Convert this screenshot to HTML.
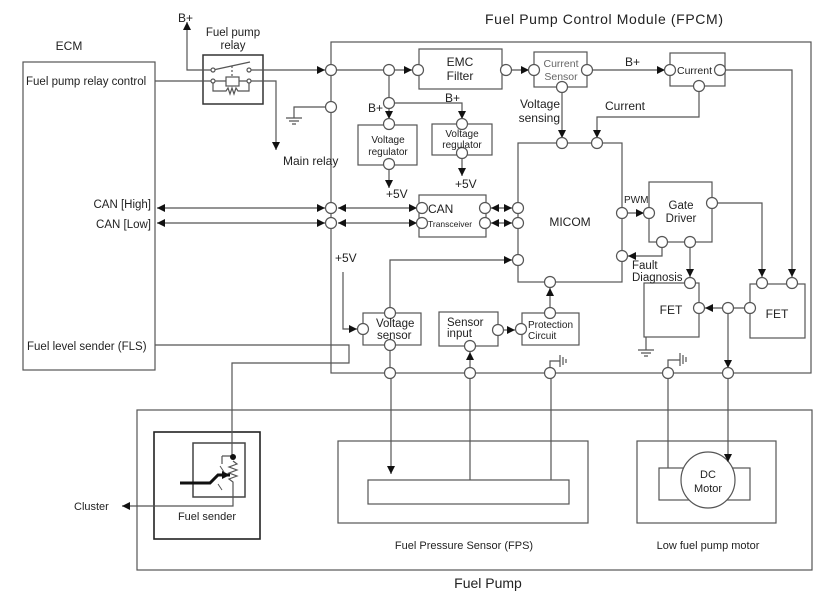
<!DOCTYPE html>
<html><head><meta charset="utf-8"><style>
html,body{margin:0;padding:0;background:#fff;}
svg{display:block;font-family:"Liberation Sans",Arial,sans-serif;}
</style></head><body>
<svg width="836" height="613" viewBox="0 0 836 613" xmlns="http://www.w3.org/2000/svg">
<defs>
<marker id="a" viewBox="0 0 10 10" refX="10" refY="5" markerWidth="8" markerHeight="8" markerUnits="userSpaceOnUse" orient="auto"><path d="M0,0 L10,5 L0,10 z" fill="#111"/></marker>
<marker id="s" viewBox="0 0 10 10" refX="0" refY="5" markerWidth="8" markerHeight="8" markerUnits="userSpaceOnUse" orient="auto"><path d="M10,0 L0,5 L10,10 z" fill="#111"/></marker>
</defs>
<g fill="none" stroke="#555" stroke-width="1.2">
<rect x="23" y="62" width="132" height="308"/>
<rect x="331" y="42" width="480" height="331"/>
<rect x="203" y="55" width="60" height="49" stroke="#333" stroke-width="1.5"/>
<rect x="419" y="49" width="83" height="40"/>
<rect x="534" y="52" width="53" height="35"/>
<rect x="670" y="53" width="55" height="33"/>
<rect x="358" y="125" width="59" height="40"/>
<rect x="432" y="124" width="60" height="31"/>
<rect x="419" y="195" width="67" height="42"/>
<rect x="518" y="143" width="104" height="139"/>
<rect x="649" y="182" width="63" height="60"/>
<rect x="644" y="283" width="55" height="54"/>
<rect x="750" y="284" width="55" height="54"/>
<rect x="363" y="313" width="58" height="32"/>
<rect x="439" y="312" width="59" height="34"/>
<rect x="522" y="313" width="57" height="32"/>
<rect x="137" y="410" width="675" height="160"/>
<rect x="154" y="432" width="106" height="107" stroke="#222" stroke-width="1.6"/>
<rect x="193" y="443" width="52" height="54" stroke="#444" stroke-width="1.5"/>
<rect x="338" y="441" width="250" height="82"/>
<rect x="368" y="480" width="201" height="24"/>
<rect x="637" y="441" width="139" height="82"/>
<rect x="659" y="468" width="91" height="32"/>
<ellipse cx="708" cy="480" rx="27" ry="28" fill="#fff"/>

<path d="M187,22 V70 H213" marker-start="url(#s)"/>
<path d="M213,70 L250,62"/>
<path d="M232,66 V78" stroke-dasharray="2,2"/>
<rect x="226" y="77" width="13" height="9"/>
<path d="M213,81 V91 H226 l2,-3 2,6 2,-6 2,6 2,-6 2,3 H249 V81"/>
<path d="M155,81 H226 M239,81 H276 V150" marker-end="url(#a)"/>
<path d="M249,70 H325" marker-end="url(#a)"/>
<path d="M337,70 H384 M394,70 H412" marker-end="url(#a)"/>
<path d="M327,107 H294 V118 M286,118 H302 M289,121 H299 M292,124 H296"/>
<path d="M389,75 V98"/>
<path d="M389,108 V119" marker-end="url(#a)"/>
<path d="M394,103 H462 V119" marker-end="url(#a)"/>
<path d="M389,169 V188" marker-end="url(#a)"/>
<path d="M462,158 V176" marker-end="url(#a)"/>
<path d="M511,70 H529" marker-end="url(#a)"/>
<path d="M592,70 H665" marker-end="url(#a)"/>
<path d="M562,92 V138" marker-end="url(#a)"/>
<path d="M699,91 V117 H597 V138" marker-end="url(#a)"/>
<path d="M725,70 H792 V277" marker-end="url(#a)"/>
<path d="M717,203 H762 V277" marker-end="url(#a)"/>
<path d="M157,208 H325" marker-start="url(#s)" marker-end="url(#a)"/>
<path d="M157,223 H325" marker-start="url(#s)" marker-end="url(#a)"/>
<path d="M338,208 H417" marker-start="url(#s)" marker-end="url(#a)"/>
<path d="M338,223 H417" marker-start="url(#s)" marker-end="url(#a)"/>
<path d="M491,208 H512" marker-start="url(#s)" marker-end="url(#a)"/>
<path d="M491,223 H512" marker-start="url(#s)" marker-end="url(#a)"/>
<path d="M627,213 H644" marker-end="url(#a)"/>
<path d="M662,247 V256 H628" marker-end="url(#a)"/>
<path d="M690,247 V277" marker-end="url(#a)"/>
<path d="M745,308 H733 M722,308 H705" marker-end="url(#a)"/>
<path d="M728,313 V368" marker-end="url(#a)"/>
<path d="M646,337 V350 M638,350 H654 M641,353 H651 M644,356 H648"/>
<path d="M343,272 V329 H357" marker-end="url(#a)"/>
<path d="M390,308 V260 H512" marker-end="url(#a)"/>
<path d="M503,330 H515" marker-end="url(#a)"/>
<path d="M550,308 V288" marker-end="url(#a)"/>
<path d="M470,368 V352" marker-end="url(#a)"/>
<path d="M390,350 V368"/>
<path d="M550,368 V361 H560 M560,355 V367 M563,357 V365 M566,359 V363"/>
<path d="M668,368 V360 H680 M680,353 V366 M683,355 V364 M686,357 V362"/>
<path d="M668,378 V368" marker-start="url(#s)"/>
<path d="M155,345 H349 V363 H232 V457"/>
<path d="M233,490 V506 H122" marker-end="url(#a)"/>
<path d="M391,378 V474" marker-end="url(#a)"/>
<path d="M470,378 V480 M551,378 V480"/>
<path d="M668,378 V468"/>
<path d="M728,378 V462" marker-end="url(#a)"/>
<path d="M222,456 H232 M233,461 l4,3 -8,3 8,3 -8,3 8,3 -8,3 4,3 V490"/>
<path d="M222,456 V464"/>
<path d="M180,483 H210 L218,475 H230" stroke="#111" stroke-width="3" marker-end="url(#a)"/>
<path d="M220,466 L224,472 M218,484 L222,490" stroke-width="1"/>
</g>
<circle cx="233" cy="457" r="3" fill="#111"/>
<g fill="#fff" stroke="#555" stroke-width="1.2">
<circle cx="213" cy="70" r="2"/><circle cx="249" cy="70" r="2"/><circle cx="213" cy="81" r="2"/><circle cx="249" cy="81" r="2"/>
<circle cx="331" cy="70" r="5.5"/><circle cx="389" cy="70" r="5.5"/><circle cx="418" cy="70" r="5.5"/>
<circle cx="331" cy="107" r="5.5"/><circle cx="389" cy="103" r="5.5"/>
<circle cx="389" cy="124" r="5.5"/><circle cx="389" cy="164" r="5.5"/>
<circle cx="462" cy="124" r="5.5"/><circle cx="462" cy="153" r="5.5"/>
<circle cx="506" cy="70" r="5.5"/><circle cx="534" cy="70" r="5.5"/><circle cx="587" cy="70" r="5.5"/><circle cx="562" cy="87" r="5.5"/>
<circle cx="670" cy="70" r="5.5"/><circle cx="720" cy="70" r="5.5"/><circle cx="699" cy="86" r="5.5"/>
<circle cx="562" cy="143" r="5.5"/><circle cx="597" cy="143" r="5.5"/>
<circle cx="331" cy="208" r="5.5"/><circle cx="331" cy="223" r="5.5"/>
<circle cx="422" cy="208" r="5.5"/><circle cx="422" cy="223" r="5.5"/><circle cx="485" cy="208" r="5.5"/><circle cx="485" cy="223" r="5.5"/>
<circle cx="518" cy="208" r="5.5"/><circle cx="518" cy="223" r="5.5"/><circle cx="518" cy="260" r="5.5"/>
<circle cx="622" cy="213" r="5.5"/><circle cx="622" cy="256" r="5.5"/><circle cx="550" cy="282" r="5.5"/>
<circle cx="649" cy="213" r="5.5"/><circle cx="712" cy="203" r="5.5"/><circle cx="662" cy="242" r="5.5"/><circle cx="690" cy="242" r="5.5"/>
<circle cx="690" cy="283" r="5.5"/><circle cx="699" cy="308" r="5.5"/><circle cx="728" cy="308" r="5.5"/><circle cx="750" cy="308" r="5.5"/>
<circle cx="762" cy="283" r="5.5"/><circle cx="792" cy="283" r="5.5"/>
<circle cx="363" cy="329" r="5.5"/><circle cx="390" cy="313" r="5.5"/><circle cx="390" cy="345" r="5.5"/>
<circle cx="498" cy="330" r="5.5"/><circle cx="470" cy="346" r="5.5"/><circle cx="521" cy="329" r="5.5"/><circle cx="550" cy="313" r="5.5"/>
<circle cx="390" cy="373" r="5.5"/><circle cx="470" cy="373" r="5.5"/><circle cx="550" cy="373" r="5.5"/><circle cx="668" cy="373" r="5.5"/><circle cx="728" cy="373" r="5.5"/>
</g>
<g fill="#222" font-size="12">
<text x="485" y="24" font-size="14" textLength="238">Fuel Pump Control Module (FPCM)</text>
<text x="69" y="50" text-anchor="middle">ECM</text>
<text x="26" y="85" font-size="11.5">Fuel pump relay control</text>
<text x="151" y="208" text-anchor="end" font-size="11.5">CAN [High]</text>
<text x="151" y="228" text-anchor="end" font-size="11.5">CAN [Low]</text>
<text x="27" y="350" font-size="11.5">Fuel level sender (FLS)</text>
<text x="178" y="22">B+</text>
<text x="233" y="36" text-anchor="middle" font-size="11.5">Fuel pump</text>
<text x="233" y="49" text-anchor="middle" font-size="11.5">relay</text>
<text x="283" y="165">Main relay</text>
<text x="460" y="66" text-anchor="middle">EMC</text>
<text x="460" y="80" text-anchor="middle">Filter</text>
<text x="561" y="67" text-anchor="middle" font-size="10.5" fill="#666">Current</text>
<text x="561" y="80" text-anchor="middle" font-size="10.5" fill="#666">Sensor</text>
<text x="625" y="66">B+</text>
<text x="677" y="74" font-size="10.5">Current</text>
<text x="560" y="108" text-anchor="end">Voltage</text>
<text x="560" y="122" text-anchor="end">sensing</text>
<text x="605" y="110">Current</text>
<text x="368" y="112">B+</text>
<text x="445" y="102">B+</text>
<text x="388" y="143" text-anchor="middle" font-size="10">Voltage</text>
<text x="388" y="155" text-anchor="middle" font-size="10">regulator</text>
<text x="462" y="137" text-anchor="middle" font-size="10">Voltage</text>
<text x="462" y="148" text-anchor="middle" font-size="10">regulator</text>
<text x="386" y="198">+5V</text>
<text x="455" y="188">+5V</text>
<text x="428" y="213" font-size="12">CAN</text>
<text x="428" y="227" font-size="8.5">Transceiver</text>
<text x="570" y="226" text-anchor="middle">MICOM</text>
<text x="624" y="203" font-size="10">PWM</text>
<text x="681" y="209" text-anchor="middle" font-size="11.5">Gate</text>
<text x="681" y="222" text-anchor="middle" font-size="11.5">Driver</text>
<text x="632" y="269" font-size="11.5">Fault</text>
<text x="632" y="281" font-size="11.5">Diagnosis</text>
<text x="671" y="314" text-anchor="middle">FET</text>
<text x="777" y="318" text-anchor="middle">FET</text>
<text x="335" y="262">+5V</text>
<text x="376" y="327" font-size="11.5">Voltage</text>
<text x="377" y="339" font-size="11.5">sensor</text>
<text x="447" y="326" font-size="11.5">Sensor</text>
<text x="447" y="337" font-size="11.5">input</text>
<text x="528" y="328" font-size="10">Protection</text>
<text x="528" y="339" font-size="10">Circuit</text>
<text x="708" y="478" text-anchor="middle" font-size="11">DC</text>
<text x="708" y="492" text-anchor="middle" font-size="11">Motor</text>
<text x="74" y="510" font-size="11">Cluster</text>
<text x="207" y="520" text-anchor="middle" font-size="11">Fuel sender</text>
<text x="464" y="549" text-anchor="middle" font-size="11">Fuel Pressure Sensor (FPS)</text>
<text x="708" y="549" text-anchor="middle" font-size="11">Low fuel pump motor</text>
<text x="488" y="588" text-anchor="middle" font-size="14">Fuel Pump</text>
</g>
</svg>
</body></html>
